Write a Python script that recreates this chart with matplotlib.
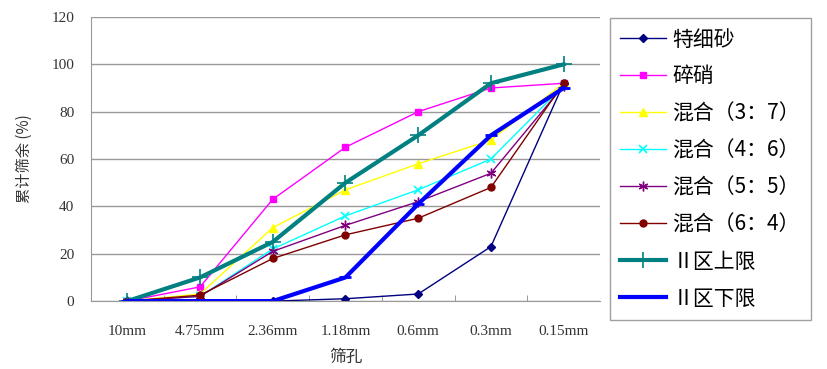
import numpy as np
import matplotlib
matplotlib.use("Agg")
import matplotlib.pyplot as plt

plt.rcParams['font.family'] = ['Noto Sans CJK SC', 'DejaVu Sans']

sieves = ["10mm", "4.75mm", "2.36mm", "1.18mm", "0.6mm", "0.3mm", "0.15mm"]

te_xi_sha = [0, 0, 0, 1, 3, 23, 92]
sui_xiao = [0, 6, 43, 65, 80, 90, 92]
mix_37 = [0, 3, 31, 47, 58, 68, 92]
mix_46 = [0, 2, 22, 36, 47, 60, 91]
mix_55 = [0, 2, 21, 32, 42, 54, 91]
mix_64 = [0, 2.5, 18, 28, 35, 48, 92]
zone2_upper = [0, 10, 25, 50, 70, 92, 100]
zone2_lower = [0, 0, 0, 10, 41, 70, 90]

x = np.arange(len(sieves))

fig = plt.figure(figsize=(8.27, 3.69), dpi=100)
ax = fig.add_axes([0.110, 0.184, 0.6155, 0.770])

ax.plot(x, te_xi_sha, color='#000080', marker='D', ms=4, lw=1, label='特细砂')
ax.plot(x, sui_xiao, color='#FF00FF', marker='s', ms=5, lw=1, label='碎硝')
ax.plot(x, mix_37, color='#FFFF00', marker='^', ms=6, lw=1, label='混合（3：7）')
ax.plot(x, mix_46, color='#00FFFF', marker='x', ms=6, mew=1.2, lw=1, label='混合（4：6）')
ax.plot(x, mix_55, color='#800080', marker=(6, 2, 0), ms=7, mew=1, lw=1, label='混合（5：5）')
ax.plot(x, mix_64, color='#800000', marker='o', ms=5, lw=1, label='混合（6：4）')
ax.plot(x, zone2_upper, color='#008080', marker='+', ms=12, mew=1.2, lw=3, label='Ⅱ区上限')
ax.plot(x, zone2_lower, color='#0000FF', marker='_', ms=8, mew=2, lw=3, label='Ⅱ区下限')

ax.set_xlim(-0.5, len(sieves) - 0.5)
ax.set_ylim(0, 120)
ax.set_yticks(np.arange(0, 121, 20))
ax.set_xticks(x)
ax.set_xticklabels(sieves)
ax.set_xticks(np.arange(0.5, len(sieves) - 1, 1), minor=True)
ax.tick_params(axis='x', which='major', length=0, pad=17, labelsize=11, colors='#333333')
ax.tick_params(axis='x', which='minor', length=4, direction='in', color='#888888')
ax.tick_params(axis='y', length=0, labelsize=11, colors='#333333', pad=12)
for lbl in ax.get_xticklabels() + ax.get_yticklabels():
    lbl.set_fontfamily('Liberation Serif')
ax.grid(axis='y', color='#999999', lw=1)
ax.set_axisbelow(True)
for side in ['top', 'right']:
    ax.spines[side].set_visible(False)
ax.spines['left'].set_color('#999999')
ax.spines['bottom'].set_color('#999999')

ax.set_xlabel('筛孔', fontsize=12, color='#333333', labelpad=8)
ax.set_ylabel('累计筛余 (%)', fontsize=11, color='#333333')
ax.yaxis.set_label_coords(-0.115, 0.5)

leg = fig.legend(loc='upper left', bbox_to_anchor=(0.7376, 0.951), fontsize=15,
                 frameon=True, fancybox=False, edgecolor='#888888',
                 handlelength=2.2, handletextpad=0.3, labelspacing=0.72,
                 borderpad=0.5, borderaxespad=0)
leg.get_frame().set_linewidth(1)

fig.savefig('out.png', dpi=100)
